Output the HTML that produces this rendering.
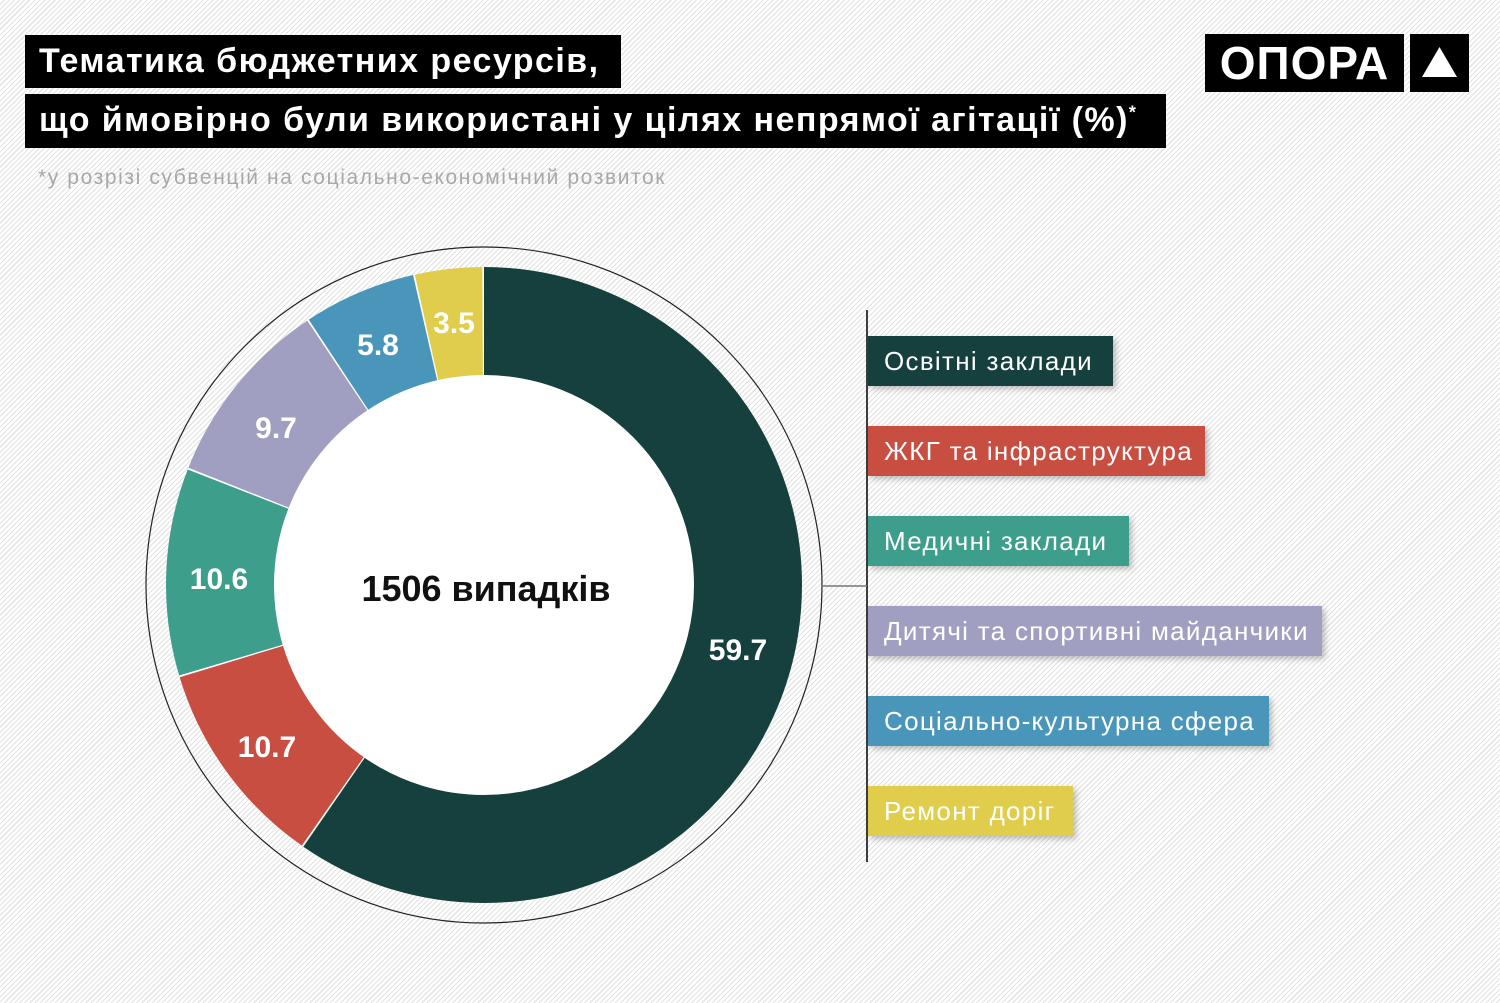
<!DOCTYPE html>
<html><head><meta charset="utf-8"><style>
body{margin:0;width:1500px;height:1003px;overflow:hidden;position:relative;font-family:"Liberation Sans","DejaVu Sans",sans-serif;
background:repeating-linear-gradient(135deg,#fff 0,#fff 2.5px,#e2e2e2 2.5px,#e2e2e2 3.6px);}
.t{position:absolute;left:25px;background:#000;color:#fff;font-weight:bold;font-size:34px;padding-left:14px;box-sizing:border-box;line-height:53px;white-space:nowrap;letter-spacing:1.45px}
.lg{position:absolute;left:868px;height:50px;color:#fff;font-size:26px;line-height:50px;padding-left:16px;box-sizing:border-box;box-shadow:3px 3px 6px rgba(0,0,0,.25);white-space:nowrap;letter-spacing:1.3px}
</style></head><body>
<div class="t" style="top:35px;width:596px;height:53px">Тематика бюджетних ресурсів,</div>
<div class="t" style="top:94px;width:1141px;height:54px">що ймовірно були використані у цілях непрямої агітації (%)<sup style="font-size:18px;line-height:0">*</sup></div>
<div style="position:absolute;left:38px;top:166px;font-size:21px;color:#a8a8a8;letter-spacing:1.6px">*у розрізі субвенцій на соціально-економічний розвиток</div>
<div style="position:absolute;left:1205px;top:34px;width:199px;height:58px;background:#000;color:#fff;font-weight:bold;font-size:46px;line-height:58px;text-align:center;letter-spacing:1px">ОПОРА</div>
<div style="position:absolute;left:1410px;top:34px;width:59px;height:58px;background:#000"></div>
<svg style="position:absolute;left:0;top:0" width="1500" height="1003">
<polygon points="1422,77 1457,77 1439.5,47" fill="#fff"/>
<circle cx="484" cy="585" r="338" fill="none" stroke="#222" stroke-width="1.2"/>
<circle cx="484" cy="585" r="318" fill="#fff"/>
<g transform="rotate(-90 484 585)" fill="none" stroke-width="108">
<circle cx="484" cy="585" r="264" stroke="#15403d" stroke-dasharray="988.8 2000" stroke-dashoffset="0"/>
<circle cx="484" cy="585" r="264" stroke="#c84e41" stroke-dasharray="176 2000" stroke-dashoffset="-990.28"/>
<circle cx="484" cy="585" r="264" stroke="#3d9e8c" stroke-dasharray="174.3 2000" stroke-dashoffset="-1167.77"/>
<circle cx="484" cy="585" r="264" stroke="#a19fc1" stroke-dasharray="159.4 2000" stroke-dashoffset="-1343.6"/>
<circle cx="484" cy="585" r="264" stroke="#4a96bb" stroke-dasharray="94.7 2000" stroke-dashoffset="-1504.5"/>
<circle cx="484" cy="585" r="264" stroke="#dfcd4b" stroke-dasharray="56.5 2000" stroke-dashoffset="-1600.71"/>
</g>
<g font-family="Liberation Sans,sans-serif" font-weight="bold" font-size="30" fill="#fff" text-anchor="middle">
<text x="738" y="660">59.7</text><text x="267" y="757">10.7</text><text x="219" y="589">10.6</text>
<text x="276" y="438">9.7</text><text x="378" y="355">5.8</text><text x="454" y="333">3.5</text>
</g>
<text x="486" y="601" text-anchor="middle" font-family="Liberation Sans,sans-serif" font-weight="bold" font-size="36" fill="#111">1506 випадків</text>
<line x1="867" y1="310" x2="867" y2="862" stroke="#000" stroke-width="1.5"/>
<line x1="822" y1="586" x2="867" y2="586" stroke="#777" stroke-width="1.5"/>
</svg>
<div class="lg" style="top:336px;width:245px;background:#15403d">Освітні заклади</div>
<div class="lg" style="top:426px;width:337px;background:#c84e41">ЖКГ та інфраструктура</div>
<div class="lg" style="top:516px;width:261px;background:#3d9e8c">Медичні заклади</div>
<div class="lg" style="top:606px;width:454px;background:#a19fc1">Дитячі та спортивні майданчики</div>
<div class="lg" style="top:696px;width:401px;background:#4a96bb">Соціально-культурна сфера</div>
<div class="lg" style="top:786px;width:205px;background:#dfcd4b">Ремонт доріг</div>
</body></html>
